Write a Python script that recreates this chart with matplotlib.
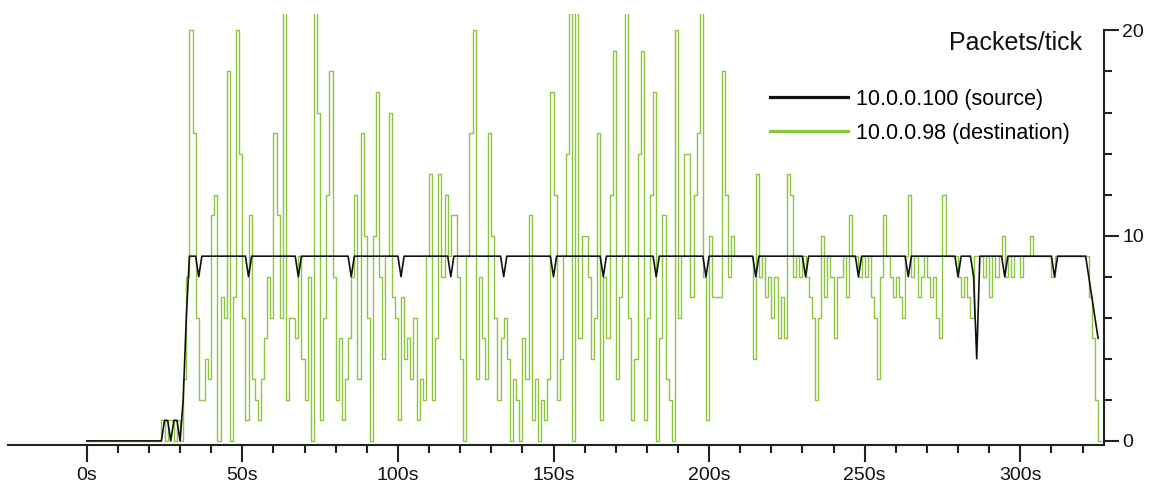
import numpy as np
import matplotlib
matplotlib.use("Agg")
import matplotlib.pyplot as plt
from matplotlib.lines import Line2D
from matplotlib.ticker import FixedLocator, FuncFormatter

plt.rcParams["font.family"] = ["Liberation Sans", "DejaVu Sans"]

# packets per tick, one value per second starting at 0s
destination_pkts = [
    0, 0, 0, 0, 0, 0, 0, 0, 0, 0,
    0, 0, 0, 0, 0, 0, 0, 0, 0, 0,
    0, 0, 0, 0, 1, 0, 1, 1, 0, 1,
    0, 3, 8, 20, 15, 6, 2, 2, 4, 3,
    11, 12, 0, 7, 6, 18, 0, 7, 20, 14,
    6, 1, 11, 3, 2, 1, 3, 5, 8, 6,
    15, 11, 6, 21, 2, 6, 6, 5, 9, 4,
    2, 8, 0, 21, 16, 1, 6, 12, 18, 8,
    2, 5, 1, 3, 5, 8, 12, 3, 15, 10,
    6, 0, 10, 17, 8, 4, 9, 16, 7, 6,
    1, 7, 4, 5, 3, 6, 1, 3, 2, 9,
    13, 2, 5, 13, 8, 12, 9, 11, 11, 8,
    4, 0, 9, 15, 20, 3, 8, 5, 3, 15,
    10, 6, 2, 5, 6, 4, 0, 3, 2, 0,
    5, 3, 11, 1, 3, 0, 2, 1, 3, 17,
    12, 2, 4, 9, 14, 21, 0, 21, 5, 10,
    10, 8, 4, 6, 15, 1, 8, 5, 12, 19,
    3, 7, 9, 21, 6, 1, 4, 14, 19, 1,
    6, 12, 17, 0, 5, 11, 3, 2, 0, 20,
    6, 9, 14, 14, 7, 12, 15, 21, 8, 1,
    10, 7, 7, 7, 18, 12, 8, 10, 9, 9,
    9, 9, 9, 9, 4, 13, 8, 9, 7, 8,
    6, 8, 5, 7, 5, 13, 12, 8, 9, 8,
    9, 8, 7, 6, 2, 6, 10, 7, 9, 8,
    5, 8, 8, 9, 7, 11, 9, 9, 8, 9,
    8, 9, 7, 6, 3, 8, 11, 9, 8, 7,
    8, 7, 6, 9, 12, 8, 9, 7, 8, 9,
    8, 7, 8, 6, 5, 12, 9, 9, 9, 9,
    8, 7, 8, 7, 6, 9, 9, 9, 8, 9,
    7, 9, 8, 9, 10, 8, 9, 8, 9, 9,
    8, 9, 9, 10, 9, 9, 9, 9, 9, 9,
    8, 9, 9, 9, 9, 9, 9, 9, 9, 9,
    9, 9, 7, 5, 2, 0, 0,
]

source_pkts = [
    0, 0, 0, 0, 0, 0, 0, 0, 0, 0,
    0, 0, 0, 0, 0, 0, 0, 0, 0, 0,
    0, 0, 0, 0, 0, 1, 1, 0, 1, 1,
    0, 2, 6, 9, 9, 9, 8, 9, 9, 9,
    9, 9, 9, 9, 9, 9, 9, 9, 9, 9,
    9, 9, 8, 9, 9, 9, 9, 9, 9, 9,
    9, 9, 9, 9, 9, 9, 9, 9, 8, 9,
    9, 9, 9, 9, 9, 9, 9, 9, 9, 9,
    9, 9, 9, 9, 9, 8, 9, 9, 9, 9,
    9, 9, 9, 9, 9, 9, 9, 9, 9, 9,
    9, 8, 9, 9, 9, 9, 9, 9, 9, 9,
    9, 9, 9, 9, 9, 9, 9, 8, 9, 9,
    9, 9, 9, 9, 9, 9, 9, 9, 9, 9,
    9, 9, 9, 9, 8, 9, 9, 9, 9, 9,
    9, 9, 9, 9, 9, 9, 9, 9, 9, 9,
    8, 9, 9, 9, 9, 9, 9, 9, 9, 9,
    9, 9, 9, 9, 9, 9, 8, 9, 9, 9,
    9, 9, 9, 9, 9, 9, 9, 9, 9, 9,
    9, 9, 9, 8, 9, 9, 9, 9, 9, 9,
    9, 9, 9, 9, 9, 9, 9, 9, 9, 8,
    9, 9, 9, 9, 9, 9, 9, 9, 9, 9,
    9, 9, 9, 9, 9, 8, 9, 9, 9, 9,
    9, 9, 9, 9, 9, 9, 9, 9, 9, 9,
    9, 8, 9, 9, 9, 9, 9, 9, 9, 9,
    9, 9, 9, 9, 9, 9, 9, 9, 8, 9,
    9, 9, 9, 9, 9, 9, 9, 9, 9, 9,
    9, 9, 9, 9, 8, 9, 9, 9, 9, 9,
    9, 9, 9, 9, 9, 9, 9, 9, 9, 9,
    8, 9, 9, 9, 9, 8, 4, 9, 9, 9,
    9, 9, 9, 9, 9, 8, 9, 9, 9, 9,
    9, 9, 9, 9, 9, 9, 9, 9, 9, 9,
    9, 8, 9, 9, 9, 9, 9, 9, 9, 9,
    9, 9, 8, 7, 6, 5,
]

labels = ["10.0.0.100 (source)", "10.0.0.98 (destination)"]
x_major = [0, 50, 100, 150, 200, 250, 300]
x_minor = [10, 20, 30, 40, 60, 70, 80, 90, 110, 120, 130, 140, 160, 170, 180,
           190, 210, 220, 230, 240, 260, 270, 280, 290, 310, 320]
y_major = [0, 10, 20]
y_minor = [2, 4, 6, 8, 12, 14, 16, 18]

GREEN = "#8cc63f"
BLACK = "#111111"

t_dst = np.arange(len(destination_pkts))
t_src = np.arange(len(source_pkts))

fig = plt.figure(figsize=(11.52, 4.86), dpi=100)
ax = fig.add_axes([8.3 / 1152, 41 / 486, (1104 - 8.3) / 1152, 431 / 486])

ax.step(t_dst, destination_pkts, where="post", color=GREEN, lw=1.0)
ax.plot(t_src, source_pkts, color=BLACK, lw=1.2)

ax.set_xlim(-25.2, 326.9)
ax.set_ylim(-0.2, 20.8)

for side in ("left", "top"):
    ax.spines[side].set_visible(False)
ax.spines["right"].set_bounds(-0.2, 20)
for side in ("right", "bottom"):
    ax.spines[side].set_linewidth(1.5)
    ax.spines[side].set_color("#222222")

ax.yaxis.tick_right()
ax.yaxis.set_major_locator(FixedLocator(y_major))
ax.yaxis.set_minor_locator(FixedLocator(y_minor))
ax.xaxis.set_major_locator(FixedLocator(x_major))
ax.xaxis.set_minor_locator(FixedLocator(x_minor))
ax.xaxis.set_major_formatter(FuncFormatter(lambda v, p: f"{int(v)}s"))

ax.tick_params(axis="both", which="both", direction="out", color="#222222",
               width=1.5, labelsize=14, labelcolor="#111111")
ax.tick_params(axis="x", which="major", length=12, pad=4)
ax.tick_params(axis="x", which="minor", length=6)
ax.tick_params(axis="y", which="major", length=11, pad=2)
ax.tick_params(axis="y", which="minor", length=6)

fig.text(1082 / 1152, 1 - 43 / 486, "Packets/tick", ha="right", va="center",
         fontsize=18, color="#111111")

handles = [Line2D([], [], color=BLACK, lw=2.3), Line2D([], [], color=GREEN, lw=2.3)]
fig.legend(handles, labels, loc="upper left", bbox_to_anchor=(770 / 1152, 1 - 89 / 486),
           frameon=False, fontsize=15.5, handlelength=3.6, handletextpad=0.4,
           labelspacing=0.6, borderpad=0, borderaxespad=0)

fig.savefig("out.png", dpi=100)
